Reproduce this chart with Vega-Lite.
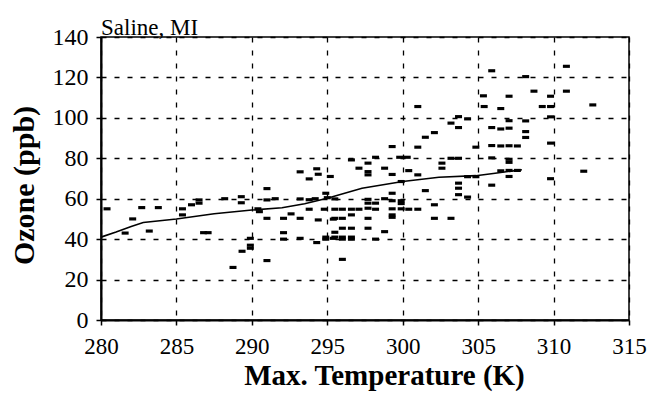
{
  "$schema": "https://vega.github.io/schema/vega-lite/v6.json",
  "autosize": {"type": "none"},
  "padding": {"left": 101, "top": 37, "right": 23, "bottom": 82},
  "width": 528,
  "height": 283,
  "background": "white",
  "title": {"text": "Saline, MI", "anchor": "start", "frame": "group", "font": "Liberation Serif", "fontSize": 23, "fontWeight": "normal", "color": "black", "offset": 4, "dy": 19},
  "config": {
    "font": "Liberation Serif",
    "view": {"stroke": "black", "strokeWidth": 1.5},
    "axis": {
      "grid": true, "gridColor": "black", "gridDash": [5, 8], "gridWidth": 1.3, "gridOpacity": 1,
      "domainColor": "black", "domainWidth": 2, "tickColor": "black", "tickSize": 5, "tickWidth": 1.5,
      "labelFont": "Liberation Serif", "labelFontSize": 24, "labelColor": "black",
      "titleFont": "Liberation Serif", "titleFontSize": 30, "titleFontWeight": "bold", "titleColor": "black"
    }
  },
  "datasets": {
    "obs": [
      {"T": 280.4, "O3": 55}, {"T": 281.6, "O3": 43}, {"T": 282.1, "O3": 50}, {"T": 282.7, "O3": 55.6},
      {"T": 283.2, "O3": 44}, {"T": 283.8, "O3": 55.6}, {"T": 285.4, "O3": 55}, {"T": 285.4, "O3": 52},
      {"T": 286.0, "O3": 57}, {"T": 286.5, "O3": 59.4}, {"T": 286.5, "O3": 57.8}, {"T": 286.8, "O3": 43.2},
      {"T": 287.1, "O3": 43.2}, {"T": 288.2, "O3": 60}, {"T": 288.75, "O3": 26}, {"T": 289.3, "O3": 61},
      {"T": 289.3, "O3": 58}, {"T": 289.35, "O3": 34}, {"T": 289.9, "O3": 40.4}, {"T": 289.9, "O3": 37},
      {"T": 289.9, "O3": 35.5}, {"T": 290.4, "O3": 55}, {"T": 290.5, "O3": 53.6}, {"T": 291.0, "O3": 65},
      {"T": 291.0, "O3": 59.4}, {"T": 291.55, "O3": 60}, {"T": 291.0, "O3": 50.3}, {"T": 291.0, "O3": 29.4},
      {"T": 292.1, "O3": 50.3}, {"T": 292.1, "O3": 43.2}, {"T": 292.1, "O3": 40}, {"T": 292.6, "O3": 52.5},
      {"T": 293.2, "O3": 73.3}, {"T": 293.8, "O3": 69.8}, {"T": 294.3, "O3": 74.8}, {"T": 294.4, "O3": 72.1},
      {"T": 293.2, "O3": 59.9}, {"T": 293.2, "O3": 50.3}, {"T": 293.2, "O3": 40.4}, {"T": 293.8, "O3": 54.8},
      {"T": 293.8, "O3": 59.5}, {"T": 294.2, "O3": 60}, {"T": 294.4, "O3": 49.5}, {"T": 294.3, "O3": 38.3},
      {"T": 294.9, "O3": 62.7}, {"T": 295.0, "O3": 60.5}, {"T": 294.8, "O3": 54.8}, {"T": 294.9, "O3": 41},
      {"T": 294.9, "O3": 40}, {"T": 295.4, "O3": 49.9}, {"T": 295.4, "O3": 40.4}, {"T": 295.5, "O3": 59.9},
      {"T": 295.5, "O3": 54.8}, {"T": 295.5, "O3": 50.3}, {"T": 295.5, "O3": 43.4}, {"T": 295.5, "O3": 41},
      {"T": 295.2, "O3": 71},
      {"T": 296.0, "O3": 54.8}, {"T": 296.0, "O3": 50.3}, {"T": 296.0, "O3": 45.4}, {"T": 296.0, "O3": 41},
      {"T": 296.0, "O3": 40}, {"T": 296.0, "O3": 30}, {"T": 296.6, "O3": 79.2}, {"T": 296.6, "O3": 54.8},
      {"T": 296.6, "O3": 52}, {"T": 296.6, "O3": 45.4}, {"T": 296.6, "O3": 41}, {"T": 296.6, "O3": 40},
      {"T": 297.1, "O3": 75.1}, {"T": 297.1, "O3": 54.8}, {"T": 297.7, "O3": 77.6}, {"T": 297.7, "O3": 73.4},
      {"T": 297.7, "O3": 71.8}, {"T": 297.7, "O3": 59.7}, {"T": 297.7, "O3": 57.8}, {"T": 297.7, "O3": 55.3},
      {"T": 297.7, "O3": 50.3}, {"T": 297.7, "O3": 45.4}, {"T": 298.2, "O3": 80.5}, {"T": 298.2, "O3": 57.8},
      {"T": 298.2, "O3": 54.8}, {"T": 298.2, "O3": 40}, {"T": 298.8, "O3": 75.1}, {"T": 298.8, "O3": 60},
      {"T": 298.8, "O3": 43.7}, {"T": 299.3, "O3": 85.8}, {"T": 299.3, "O3": 72}, {"T": 299.3, "O3": 62.7},
      {"T": 299.3, "O3": 59}, {"T": 299.3, "O3": 55}, {"T": 299.3, "O3": 52}, {"T": 299.3, "O3": 50.8},
      {"T": 299.8, "O3": 80.5}, {"T": 299.9, "O3": 68.5}, {"T": 299.9, "O3": 59}, {"T": 299.9, "O3": 55},
      {"T": 299.9, "O3": 57.6},
      {"T": 300.3, "O3": 80.5}, {"T": 300.4, "O3": 73.9}, {"T": 300.4, "O3": 54.8}, {"T": 301.0, "O3": 105.6},
      {"T": 301.0, "O3": 85.5}, {"T": 301.0, "O3": 71.8}, {"T": 301.0, "O3": 54.8}, {"T": 301.5, "O3": 90.4},
      {"T": 301.5, "O3": 64}, {"T": 302.1, "O3": 92.7}, {"T": 302.1, "O3": 57}, {"T": 302.1, "O3": 50.3},
      {"T": 302.6, "O3": 77.6}, {"T": 302.6, "O3": 75.1}, {"T": 303.2, "O3": 97.4}, {"T": 303.2, "O3": 80},
      {"T": 303.2, "O3": 50.3}, {"T": 303.7, "O3": 100.6}, {"T": 303.7, "O3": 95.2}, {"T": 303.7, "O3": 80},
      {"T": 303.7, "O3": 67.7}, {"T": 303.7, "O3": 65.2}, {"T": 303.7, "O3": 62}, {"T": 304.3, "O3": 99.5},
      {"T": 304.3, "O3": 70.9}, {"T": 304.3, "O3": 60.8}, {"T": 304.85, "O3": 85.5}, {"T": 304.85, "O3": 70.9},
      {"T": 305.35, "O3": 110.9}, {"T": 305.4, "O3": 105.6}, {"T": 305.9, "O3": 123.3}, {"T": 305.9, "O3": 95.2},
      {"T": 305.9, "O3": 86.3}, {"T": 305.9, "O3": 80.2}, {"T": 305.9, "O3": 66.7}, {"T": 306.5, "O3": 104.6},
      {"T": 306.5, "O3": 94.5}, {"T": 306.5, "O3": 86.1}, {"T": 306.5, "O3": 73.8}, {"T": 307.05, "O3": 110.7},
      {"T": 307.05, "O3": 98.6}, {"T": 307.05, "O3": 94.9}, {"T": 307.05, "O3": 86.2}, {"T": 307.05, "O3": 79.5},
      {"T": 307.05, "O3": 78}, {"T": 307.05, "O3": 74}, {"T": 307.05, "O3": 71}, {"T": 307.6, "O3": 86.1},
      {"T": 307.6, "O3": 74}, {"T": 308.15, "O3": 120.4}, {"T": 308.15, "O3": 98.5}, {"T": 308.15, "O3": 93.2},
      {"T": 308.15, "O3": 90.3}, {"T": 308.7, "O3": 113.2}, {"T": 309.25, "O3": 105.6}, {"T": 309.8, "O3": 110.7},
      {"T": 309.8, "O3": 105.6}, {"T": 309.8, "O3": 100.5}, {"T": 309.8, "O3": 87.5}, {"T": 309.8, "O3": 69.9},
      {"T": 310.85, "O3": 125.5}, {"T": 310.85, "O3": 113.2}, {"T": 312.0, "O3": 73.6}, {"T": 312.6, "O3": 106.4}
    ],
    "fit": [
      {"T": 280, "O3": 41}, {"T": 281, "O3": 43.5}, {"T": 282, "O3": 46.3}, {"T": 282.8, "O3": 48.2},
      {"T": 285, "O3": 50}, {"T": 287.5, "O3": 52.6}, {"T": 290, "O3": 54.4}, {"T": 292, "O3": 55.5},
      {"T": 293.5, "O3": 57.5}, {"T": 295, "O3": 60.2}, {"T": 297.3, "O3": 65.2}, {"T": 300, "O3": 68.5},
      {"T": 302.4, "O3": 70.6}, {"T": 304.85, "O3": 71.4}, {"T": 306, "O3": 72.5}, {"T": 307.9, "O3": 74.3}
    ]
  },
  "encoding": {
    "x": {"field": "T", "type": "quantitative", "scale": {"domain": [280, 315], "nice": false, "zero": false},
      "axis": {"values": [280, 285, 290, 295, 300, 305, 310, 315], "title": "Max. Temperature (K)",
        "labelFont": "Liberation Serif", "labelFontSize": 23, "labelColor": "black", "labelPadding": 10, "labelFlush": false,
        "titleFont": "Liberation Serif", "titleFontSize": 29, "titleFontWeight": "bold",
        "titleX": 283, "titleY": 64, "titleBaseline": "alphabetic", "titleAlign": "center"}},
    "y": {"field": "O3", "type": "quantitative", "scale": {"domain": [0, 140], "nice": false},
      "axis": {"values": [0, 20, 40, 60, 80, 100, 120, 140], "title": "Ozone (ppb)",
        "labelFont": "Liberation Serif", "labelFontSize": 24, "labelColor": "black", "labelPadding": 8, "labelFlush": false,
        "titleFont": "Liberation Serif", "titleFontSize": 30, "titleFontWeight": "bold",
        "titleX": -68, "titleY": 148, "titleBaseline": "alphabetic", "titleAlign": "center", "titleAngle": -90}}
  },
  "layer": [
    {
      "data": {"name": "obs"},
      "mark": {"type": "point", "shape": "M-1,-0.45L1,-0.45L1,0.45L-1,0.45Z", "size": 49, "filled": true, "color": "black", "opacity": 1}
    },
    {
      "data": {"name": "fit"},
      "mark": {"type": "line", "color": "black", "strokeWidth": 1.6}
    }
  ]
}
